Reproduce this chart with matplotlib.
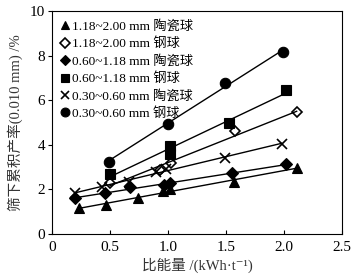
import matplotlib.pyplot as plt
import numpy as np
from matplotlib.lines import Line2D

plt.rcParams['font.family'] = ['Liberation Serif', 'Noto Sans CJK SC', 'DejaVu Serif']

# --- data ---
labels = ['1.18~2.00 mm 陶瓷球', '1.18~2.00 mm 钢球', '0.60~1.18 mm 陶瓷球',
          '0.60~1.18 mm 钢球', '0.30~0.60 mm 陶瓷球', '0.30~0.60 mm 钢球']

tri_x = [0.23, 0.47, 0.74, 0.96, 1.02, 1.57, 2.11]
tri_y = [1.15, 1.30, 1.60, 1.95, 2.00, 2.35, 2.95]
odia_x = [0.50, 0.93, 1.03, 1.58, 2.11]
odia_y = [2.30, 2.85, 3.20, 4.60, 5.45]
dia_x = [0.20, 0.46, 0.67, 0.97, 1.02, 1.55, 2.02]
dia_y = [1.60, 1.82, 2.12, 2.20, 2.30, 2.72, 3.12]
sq_x = [0.50, 1.02, 1.02, 1.53, 2.02]
sq_y = [2.70, 3.60, 3.95, 5.00, 6.45]
x_x = [0.20, 0.43, 0.66, 0.90, 0.98, 1.49, 1.98]
x_y = [1.85, 2.10, 2.35, 2.80, 2.90, 3.42, 4.05]
cir_x = [0.49, 1.00, 1.49, 1.99]
cir_y = [3.25, 4.95, 6.75, 8.15]

series = [
    (tri_x, tri_y, '^', 'k', 7),
    (odia_x, odia_y, 'D', 'none', 5.5),
    (dia_x, dia_y, 'D', 'k', 6),
    (sq_x, sq_y, 's', 'k', 6.5),
    (x_x, x_y, 'x', 'k', 7),
    (cir_x, cir_y, 'o', 'k', 7.5),
]

fig = plt.figure(figsize=(3.61, 2.75), dpi=100)
ax = fig.add_axes([0.144, 0.149, 0.803, 0.811])

handles = []
for xs, ys, mk, fc, ms in series:
    xs = np.array(xs)
    ys = np.array(ys)
    k, b = np.polyfit(xs, ys, 1)
    xl = np.array([xs.min(), xs.max()])
    ax.plot(xl, k * xl + b, color='k', lw=1.0, zorder=1)
    mew = 1.2 if fc == 'none' or mk == 'x' else 0.8
    ax.plot(xs, ys, ls='none', marker=mk, ms=ms, mfc=fc, mec='k', mew=mew, zorder=2)
    handles.append(Line2D([], [], ls='none', marker=mk, ms=ms * 0.85, mfc=fc,
                          mec='k', mew=mew))

ax.set_xlim(0, 2.5)
ax.set_ylim(0, 10)
ax.set_xticks([0, 0.5, 1.0, 1.5, 2.0, 2.5])
ax.set_xticklabels(['0', '0.5', '1.0', '1.5', '2.0', '2.5'])
ax.set_yticks([0, 2, 4, 6, 8, 10])
ax.tick_params(axis='x', direction='in', labelsize=11, length=3, pad=5)
ax.tick_params(axis='y', direction='out', labelsize=11, length=3, pad=2)
ax.set_xlabel('比能量 /(kWh·t⁻¹)', fontsize=10.5, labelpad=3, color='#333333')
ax.set_ylabel('筛下累积产率(0.010 mm) /%', fontsize=10.5, labelpad=5, color='#333333')

ax.legend(handles, labels, loc='upper left', frameon=False, fontsize=9.5,
          handlelength=0.6, handletextpad=0.25, labelspacing=0.36,
          borderaxespad=0.3, borderpad=0.4)

fig.savefig('out.png', dpi=100)
